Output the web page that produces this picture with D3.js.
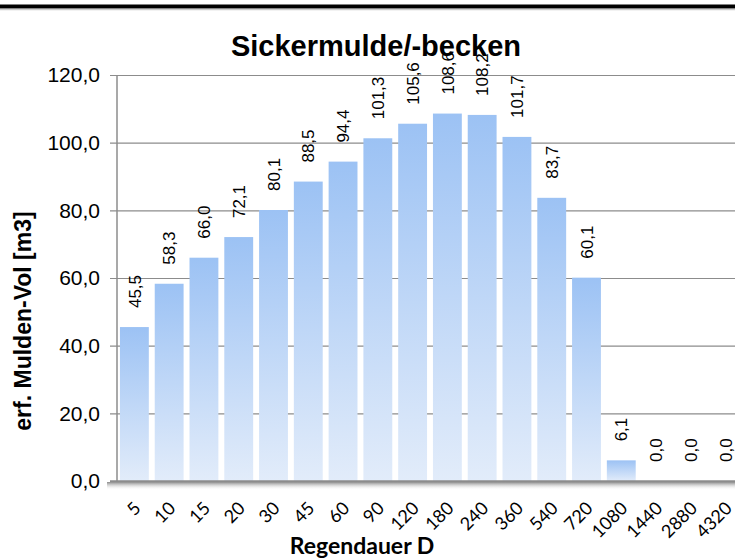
<!DOCTYPE html>
<html>
<head>
<meta charset="utf-8">
<script src="https://cdn.jsdelivr.net/npm/d3@7"></script>
<style>
    body { margin: 0; background: #fff; }
    svg { display: block; }
</style>
</head>
<body>
<svg id="chart" width="735" height="560"></svg>
<script>
/*global d3*/
(function () {
    "use strict";
    var categories = ["5", "10", "15", "20", "30", "45", "60", "90", "120", "180", "240", "360", "540", "720", "1080", "1440", "2880", "4320"],
        volumes = [45.5, 58.3, 66.0, 72.1, 80.1, 88.5, 94.4, 101.3, 105.6, 108.6, 108.2, 101.7, 83.7, 60.1, 6.1, 0.0, 0.0, 0.0],
        yTicks = [0, 20, 40, 60, 80, 100, 120];

    var svg = d3.select("#chart"),
        left = 117,
        right = 743,
        top = 75,
        bottom = 481;

    var fmt = function (v) {
        return d3.format(".1f")(v).replace(".", ",");
    };

    var x = d3.scaleBand()
        .domain(categories)
        .range([left, right])
        .paddingInner(0.17)
        .paddingOuter(0.085);
    var y = d3.scaleLinear().domain([0, 120]).range([bottom, top]);

    var defs = svg.append("defs");
    var barGrad = defs.append("linearGradient")
        .attr("id", "barGrad")
        .attr("x1", 0).attr("y1", 0).attr("x2", 0).attr("y2", 1);
    barGrad.append("stop").attr("offset", "0%").attr("stop-color", "#9cc2f4");
    barGrad.append("stop").attr("offset", "100%").attr("stop-color", "#e2ecfa");

    var shadeGrad = defs.append("linearGradient")
        .attr("id", "shadeGrad")
        .attr("x1", 0).attr("y1", 0).attr("x2", 0).attr("y2", 1);
    shadeGrad.append("stop").attr("offset", "0%").attr("stop-color", "#8a8a8a");
    shadeGrad.append("stop").attr("offset", "100%").attr("stop-color", "#ffffff").attr("stop-opacity", 0);

    // frame line at the top of the picture
    svg.append("rect").attr("x", 0).attr("y", 4.5).attr("width", 735).attr("height", 4).attr("fill", "#000");
    svg.append("rect").attr("x", 0).attr("y", 8.5).attr("width", 735).attr("height", 3).attr("fill", "url(#shadeGrad)");

    // gridlines + left ticks
    var yAxis = d3.axisLeft(y)
        .tickValues(yTicks)
        .tickSize(-(735 - left))
        .tickPadding(16)
        .tickFormat(fmt);
    var gy = svg.append("g")
        .attr("transform", "translate(" + left + ",0)")
        .call(yAxis);
    gy.select(".domain").remove();
    gy.selectAll(".tick line")
        .attr("x1", -7)
        .attr("stroke", "#8c8c8c")
        .attr("stroke-width", 1.2);
    gy.selectAll(".tick text")
        .attr("x", -17)
        .attr("font-family", "'Liberation Sans', Arial, sans-serif")
        .attr("font-size", 21)
        .attr("fill", "#000");

    // shadow under the category axis
    svg.append("rect")
        .attr("x", left - 10).attr("y", bottom + 1)
        .attr("width", 735 - left + 10).attr("height", 8)
        .attr("fill", "url(#shadeGrad)");

    svg.append("g").selectAll("rect")
        .data(volumes)
        .join("rect")
        .attr("x", function (d, i) { return x(categories[i]); })
        .attr("y", function (d) { return y(d); })
        .attr("width", x.bandwidth())
        .attr("height", function (d) { return y(0) - y(d); })
        .attr("fill", "url(#barGrad)");

    // axis lines
    svg.append("line")
        .attr("x1", left).attr("x2", left).attr("y1", top).attr("y2", bottom)
        .attr("stroke", "#8c8c8c").attr("stroke-width", 1.5);
    svg.append("line")
        .attr("x1", left - 7).attr("x2", 735).attr("y1", bottom).attr("y2", bottom)
        .attr("stroke", "#8c8c8c").attr("stroke-width", 1.5);

    // value labels
    svg.append("g").selectAll("text")
        .data(volumes)
        .join("text")
        .attr("transform", function (d, i) {
            var cx = x(categories[i]) + x.bandwidth() / 2;
            return "translate(" + cx + "," + (y(d) - 19) + ") rotate(-90)";
        })
        .attr("dy", "0.36em")
        .attr("text-anchor", "start")
        .attr("font-family", "'Liberation Sans', Arial, sans-serif")
        .attr("font-size", 17)
        .text(function (d) { return fmt(d); });

    // category labels
    svg.append("g").selectAll("text")
        .data(categories)
        .join("text")
        .attr("transform", function (d) {
            var cx = x(d) + x.bandwidth() / 2;
            return "translate(" + (cx + 3) + "," + (bottom + 24) + ") rotate(-45)";
        })
        .attr("dy", "0.35em")
        .attr("text-anchor", "end")
        .attr("font-family", "Lato, 'Open Sans', sans-serif")
        .attr("font-size", 18)
        .text(function (d) { return d; });

    svg.append("text")
        .attr("x", 376).attr("y", 56)
        .attr("text-anchor", "middle")
        .attr("font-family", "'Liberation Sans', Arial, sans-serif")
        .attr("font-weight", "bold")
        .attr("font-size", 29)
        .text("Sickermulde/-becken");

    svg.append("text")
        .attr("transform", "translate(31,321) rotate(-90)")
        .attr("text-anchor", "middle")
        .attr("font-family", "'Liberation Sans', Arial, sans-serif")
        .attr("font-weight", "bold")
        .attr("font-size", 23)
        .text("erf. Mulden-Vol [m3]");

    // axis title sits low, keep the descender inside the picture
    svg.append("text")
        .attr("x", 362).attr("y", 554)
        .attr("text-anchor", "middle")
        .attr("font-family", "Lato, 'Open Sans', sans-serif")
        .attr("font-weight", "bold")
        .attr("font-size", 23)
        .text("Regendauer D");
}());
</script>
</body>
</html>
